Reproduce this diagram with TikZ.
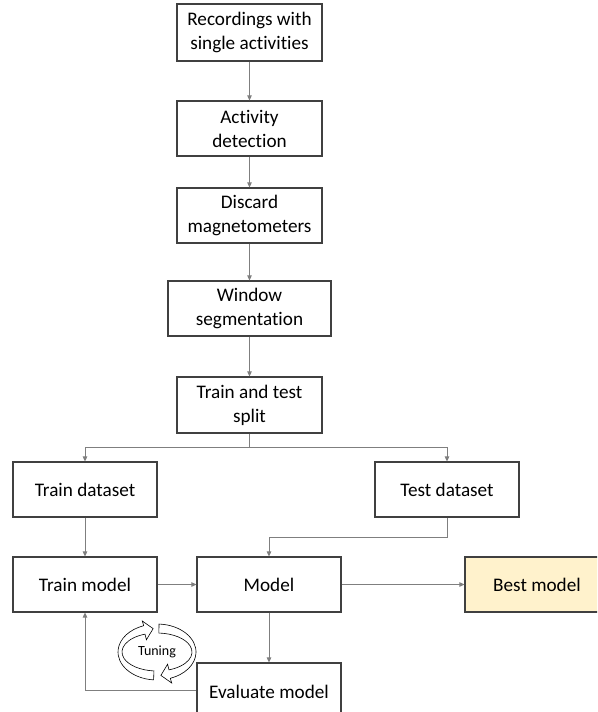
\documentclass[tikz,border=0pt]{standalone}
\usepackage{fontspec}
\setmainfont{Carlito}[Ligatures={NoCommon,NoContextual}]
\usetikzlibrary{arrows.meta}
\definecolor{boxline}{HTML}{404040}
\definecolor{conn}{HTML}{7F7F7F}
\definecolor{bestfill}{HTML}{FFF2CC}
\tikzset{
  box/.style={draw=boxline, line width=1.1pt, fill=white, minimum width=145pt, minimum height=56pt,
    inner sep=0pt, align=center, font=\fontsize{19.2}{24}\selectfont, text=black},
  conline/.style={draw=conn, line width=0.8pt},
  conarrow/.style={conline, -{Triangle[length=5pt,width=4.5pt]}, shorten >=0pt},
  ringpart/.style={draw=black, line width=0.6pt, fill=white},
}
\begin{document}
\begin{tikzpicture}[x=1pt,y=1pt]
\useasboundingbox (0,0) rectangle (597,-712);
\clip (0,0) rectangle (597,-712);
% nodes
\node[box, minimum height=57pt] (rec) at (249.5,-32.5) {Recordings with\\single activities};
\node[box, minimum height=55pt] (act) at (249.5,-128.5) {Activity\\detection};
\node[box, minimum height=55pt] (dis) at (249.5,-215.5) {Discard\\magnetometers};
\node[box, minimum width=163pt, minimum height=55pt] (win) at (249.5,-308.5) {Window\\segmentation};
\node[box] (split) at (249.5,-405) {Train and test\\split};
\node[box, minimum width=144pt, minimum height=55pt] (trainds) at (85,-489.5) {Train dataset};
\node[box, minimum width=144pt, minimum height=55pt] (testds) at (447,-489.5) {Test dataset};
\node[box, minimum width=144pt, minimum height=55pt] (trainm) at (85,-584.5) {Train model};
\node[box, minimum width=144pt, minimum height=55pt] (model) at (269,-584.5) {Model};
\node[box, minimum width=144pt, minimum height=55pt, fill=bestfill] (best) at (537,-584.5) {Best model};
\node[box, minimum width=144pt, minimum height=58pt] (eval) at (269,-692) {Evaluate model};
% connectors
\draw[conarrow] (rec) -- (act);
\draw[conarrow] (act) -- (dis);
\draw[conarrow] (dis) -- (win);
\draw[conarrow] (win) -- (split);
\coordinate (sj) at (249.5,-447);
\draw[conline] (split.south) -- (sj);
\draw[conarrow] (sj) -| (trainds.north);
\draw[conarrow] (sj) -| (testds.north);
\draw[conarrow] (trainds) -- (trainm);
\coordinate (tj) at (447,-537);
\draw[conarrow] (testds.south) -- (tj) -| (model.north);
\draw[conarrow] (trainm) -- (model);
\draw[conarrow] (model) -- (best);
\draw[conarrow] (model) -- (eval);
\coordinate (ej) at (85,-690);
\draw[conarrow] (eval.west |- ej) -- (ej) -- (trainm.south);
% tuning ring
\begin{scope}[shift={(157,-652)}]
  \path[ringpart] (265:39 and 28) arc[start angle=265, end angle=110, x radius=39, y radius=28]
    -- (110:43 and 33) -- (96:37 and 23.5) -- (110:31 and 13) -- (110:35 and 19)
    arc[start angle=110, end angle=265, x radius=35, y radius=19] -- cycle;
  \path[ringpart] (87:39 and 28) arc[start angle=87, end angle=-70, x radius=39, y radius=28]
    -- (-70:43 and 33) -- (-84:37 and 23.5) -- (-70:31 and 13) -- (-70:35 and 19)
    arc[start angle=-70, end angle=87, x radius=35, y radius=19] -- cycle;
  \node[inner sep=0pt, font=\fontsize{14}{16}\selectfont] (tune) at (0,0) {Tuning};
\end{scope}
\end{tikzpicture}
\end{document}
